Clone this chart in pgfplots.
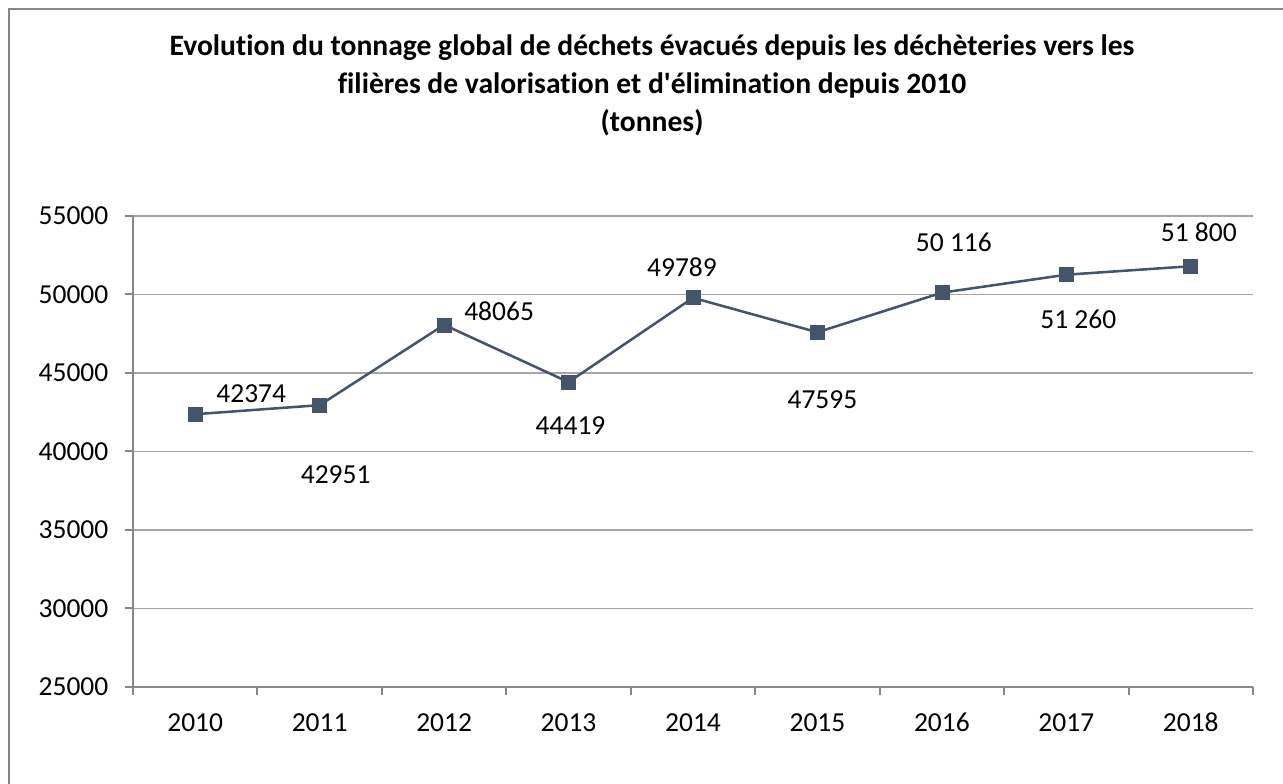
\documentclass[border=0pt]{standalone}
\usepackage{fontspec}
\setmainfont{Carlito}[Ligatures={NoCommon}]
\usepackage{pgfplots}
\usepackage{pgfplotstable}
\pgfplotsset{compat=1.18}
\definecolor{serie}{HTML}{44546A}
\definecolor{gridc}{HTML}{A6A6A6}
\definecolor{axisc}{HTML}{868686}
\pgfplotstableread[col sep=comma]{
x,y,lab,dx,dy
0,42374,42374,56,21
1,42951,42951,16,-70
2,48065,48065,55,14
3,44419,44419,2,-43
4,49789,49789,-11,31
5,47595,47595,5,-67
6,50116,50 116,12,50
7,51260,51 260,12,-45
8,51800,51 800,8,34
}\datatable
\begin{document}
\begin{tikzpicture}
\useasboundingbox (0,0) rectangle (962.25pt,588pt);
\draw[axisc, line width=0.9pt] (6.75pt,0pt) -- (6.75pt,581.25pt) -- (962.25pt,581.25pt);
\node[align=center, font=\fontsize{22.2}{28.5}\selectfont\bfseries] at (489pt,524pt)
 {Evolution du tonnage global de déchets évacués depuis les déchèteries vers les\\
  filières de valorisation et d\textquotesingle{}élimination depuis 2010\\
  (tonnes)};
\begin{axis}[
  at={(99.75pt,72.75pt)}, anchor=south west,
  width=840pt, height=353.25pt, scale only axis,
  xmin=-0.5, xmax=8.5, ymin=25000, ymax=55000,
  ytick={25000,30000,...,55000},
  xtick={0,...,8},
  xticklabels={2010,2011,2012,2013,2014,2015,2016,2017,2018},
  minor xtick={-0.5,0.5,...,8.5},
  axis lines=left, axis line style={-, axisc, line width=1.5pt},
  tick align=outside,
  major tick length=6pt, minor tick length=6pt,
  major x tick style={draw=none},
  minor x tick style={axisc, line width=1.5pt},
  major y tick style={axisc, line width=1.5pt},
  ymajorgrids, grid style={gridc, line width=1.1pt},
  tick label style={font=\fontsize{20.6}{24}\selectfont},
  /pgf/number format/assume math mode=true,
  scaled y ticks=false,
  yticklabel={\pgfmathprintnumber[fixed,use comma,1000 sep={}]{\tick}},
  yticklabel style={xshift=-9pt},
  xticklabel style={anchor=base, yshift=-27.5pt},
  clip=false,
]
\addplot[serie, line width=1.9pt, mark=square*, mark size=5.25pt,
  mark options={fill=serie, draw=serie, line width=0.5pt},
  point meta=explicit symbolic,
  nodes near coords,
  visualization depends on={\thisrow{dx}\as\dx},
  visualization depends on={\thisrow{dy}\as\dy},
  nodes near coords style={anchor=center, text=black, font=\fontsize{20.6}{24}\selectfont,
    xshift={0.75*\dx}, yshift={0.75*\dy}},
] table[x=x, y=y, meta=lab] {\datatable};
\end{axis}
\end{tikzpicture}
\end{document}
